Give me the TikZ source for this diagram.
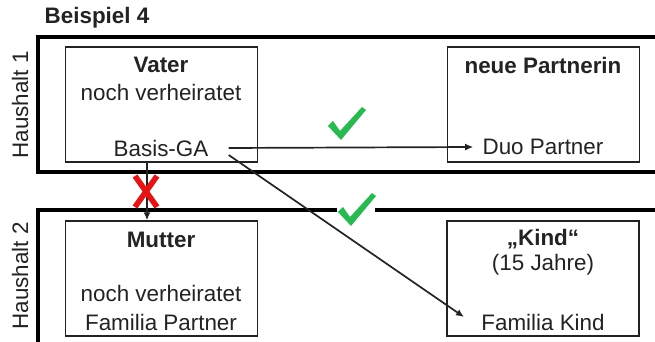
\documentclass[tikz,border=0pt]{standalone}
\usepackage{fontspec}
\setmainfont{Liberation Sans}
\usetikzlibrary{arrows.meta}
\definecolor{okgreen}{RGB}{40,185,80}
\definecolor{notred}{RGB}{230,20,20}
\definecolor{inkgray}{RGB}{35,35,35}

\tikzset{
  txt/.style={inner sep=0pt,text=inkgray,font=\fontsize{11.2}{13}\selectfont},
  head/.style={txt,font=\fontsize{11.2}{13}\selectfont\bfseries},
  person/.style={draw=inkgray,line width=0.65pt,minimum width=96pt,minimum height=57.5pt,inner sep=0pt},
  haushalt/.style={draw=black,line width=1.6pt},
  flow/.style={inkgray,line width=0.85pt,-{Latex[length=4pt,width=3.5pt]}},
  pics/haken/.style={code={
      \fill[okgreen] (0,19) -- (5,14) -- (12,24) -- (34,0) -- (38,3) -- (13,33) -- cycle;
  }}
}

\begin{document}
\begin{tikzpicture}[x=0.5pt,y=-0.5pt]
        \useasboundingbox[fill=white] (0,0) rectangle (655,342);

        % title
        \node[head] (titel) at (97,18) {Beispiel 4};

        % the two households, open to the right
        \draw[haushalt] (655,37) -- (38,37) -- (38,172) -- (655,172);
        \draw[haushalt] (337,210) -- (38,210) -- (38,342);
        \draw[haushalt] (375,210) -- (655,210);
        \node[txt,rotate=90] (hh1) at (20,105) {Haushalt 1};
        \node[txt,rotate=90] (hh2) at (20,276) {Haushalt 2};

        % person boxes
        \node[person] (vater) at (161.5,104.5) {};
        \node[person] (partnerin) at (543.5,104.5) {};
        \node[person] (mutter) at (161.5,278.5) {};
        \node[person] (kind) at (543,278.5) {};

        % texts in the boxes
        \node[head] (vatername) at (161,65) {Vater};
        \node[txt] (vaterstand) at (161,92) {noch verheiratet};
        \node[txt,inner xsep=10pt,inner ysep=3pt] (basis) at (161,148) {Basis-GA};

        \node[head] (partnername) at (543,65) {neue Partnerin};
        \node[txt,inner xsep=4.5pt] (duo) at (543,147) {Duo Partner};

        \node[head] (muttername) at (161,240) {Mutter};
        \node[txt] (mutterstand) at (161,293) {noch verheiratet};
        \node[txt] (familiapartner) at (161,322) {Familia Partner};

        \node[head] (kindname) at (543,239) {„Kind“};
        \node[txt] (kindalter) at (543,265) {(15 Jahre)};
        \node[txt,inner xsep=8.5pt] (familiakind) at (543,322) {Familia Kind};

        % connections
        \draw[flow] (basis.east) -- (duo.west);
        \draw[flow] ([yshift=-3.5pt]basis.east) -- ([yshift=2.5pt]familiakind.west);
        \draw[flow] ([xshift=-7.25pt]vater.south) -- ([xshift=-7.25pt]mutter.north);

        % marks
        \pic at (328,107) {haken};
        \pic at (338,193) {haken};
        \draw[notred,line width=2.8pt] (135,176) -- (157,207) (157,176) -- (135,207);
    \end{tikzpicture}
\end{document}
